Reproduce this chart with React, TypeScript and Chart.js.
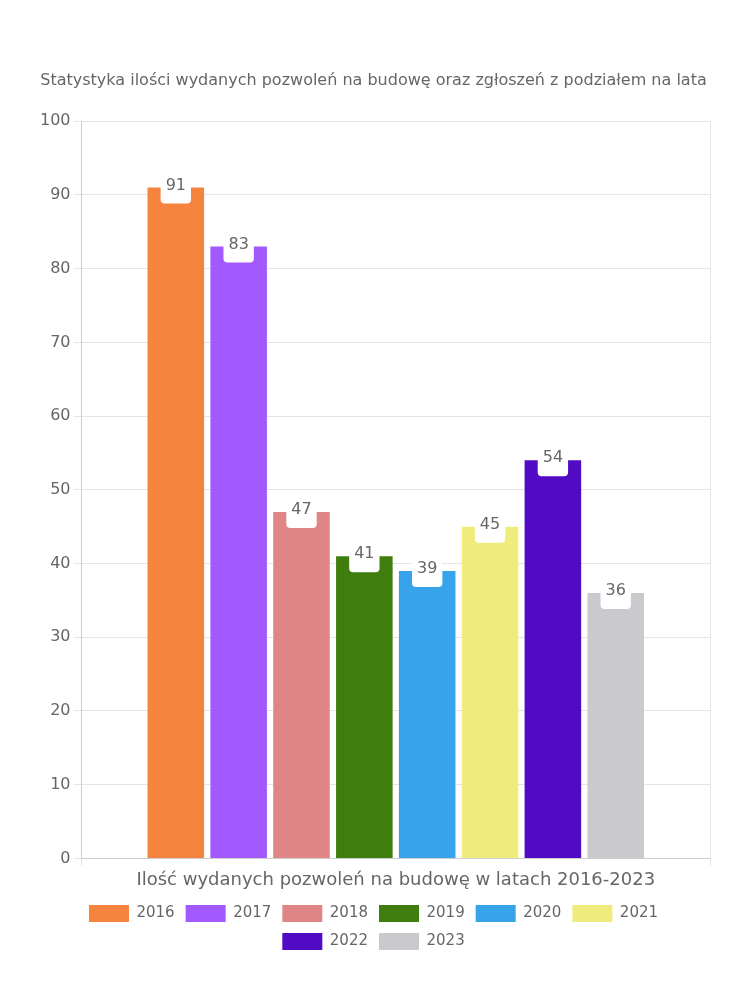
import React, { useEffect, useRef } from "react";
import { Chart, registerables } from "chart.js";

Chart.register(...registerables);

const categories = ["Ilość wydanych pozwoleń na budowę w latach 2016-2023"];
const years = ["2016", "2017", "2018", "2019", "2020", "2021", "2022", "2023"];
const values = [91, 83, 47, 41, 39, 45, 54, 36];
const colors = ["#F5843F", "#A259FF", "#E08585", "#3E7D0E", "#37A3EB", "#F0EB7D", "#510BC4", "#CACACE"];
const yTicks = [0, 10, 20, 30, 40, 50, 60, 70, 80, 90, 100];
const titleText = "Statystyka ilości wydanych pozwoleń na budowę oraz zgłoszeń z podziałem na lata";

const FONT = "'DejaVu Sans', sans-serif";
const TEXT = "#666666";

const labelPlugin = {
  id: "valueBoxes",
  afterDatasetsDraw(chart: any) {
    const ctx = chart.ctx;
    ctx.save();
    ctx.font = `16px ${FONT}`;
    ctx.textAlign = "center";
    ctx.textBaseline = "middle";
    chart.data.datasets.forEach((ds: any, i: number) => {
      const meta = chart.getDatasetMeta(i);
      if (meta.hidden) return;
      meta.data.forEach((el: any, j: number) => {
        const v = ds.data[j];
        const txt = String(v);
        const w = ctx.measureText(txt).width + 10;
        const h = 32;
        const x = el.x - w / 2;
        const y = el.y - h / 2;
        ctx.fillStyle = "#ffffff";
        ctx.beginPath();
        ctx.roundRect(x, y, w, h, 4);
        ctx.fill();
        ctx.fillStyle = TEXT;
        ctx.fillText(txt, el.x, el.y - 2);
      });
    });
    ctx.restore();
  },
};

export default function App() {
  const ref = useRef<HTMLCanvasElement>(null);
  useEffect(() => {
    if (!ref.current) return;
    const chart = new Chart(ref.current, {
      type: "bar",
      data: {
        labels: categories,
        datasets: years.map((y, i) => ({
          label: y,
          data: [values[i]],
          backgroundColor: colors[i],
          borderWidth: 0,
        })),
      },
      options: {
        responsive: true,
        maintainAspectRatio: false,
        animation: false,
        layout: { padding: { top: 55, left: 29, right: 32, bottom: 32 } },
        plugins: {
          title: {
            display: true,
            text: titleText,
            color: TEXT,
            font: { family: FONT, size: 16, weight: "normal" },
            padding: { top: 8, bottom: 31 },
          },
          legend: {
            position: "bottom",
            labels: {
              color: TEXT,
              font: { family: FONT, size: 15 },
              boxWidth: 40,
              boxHeight: 17,
              padding: 11,
            },
          },
          tooltip: { enabled: false },
        },
        scales: {
          x: {
            grid: { color: "#e5e5e5" },
            ticks: { color: TEXT, font: { family: FONT, size: 18 } },
          },
          y: {
            min: 0,
            max: 100,
            afterBuildTicks: (axis: any) => {
              axis.ticks = yTicks.map((v) => ({ value: v }));
            },
            grid: { color: "#e5e5e5" },
            ticks: { color: TEXT, font: { family: FONT, size: 16 } },
          },
        },
      },
      plugins: [labelPlugin],
    });
    return () => chart.destroy();
  }, []);
  return (
    <div style={{ width: 734, height: 984 }}>
      <canvas ref={ref} />
    </div>
  );
}
